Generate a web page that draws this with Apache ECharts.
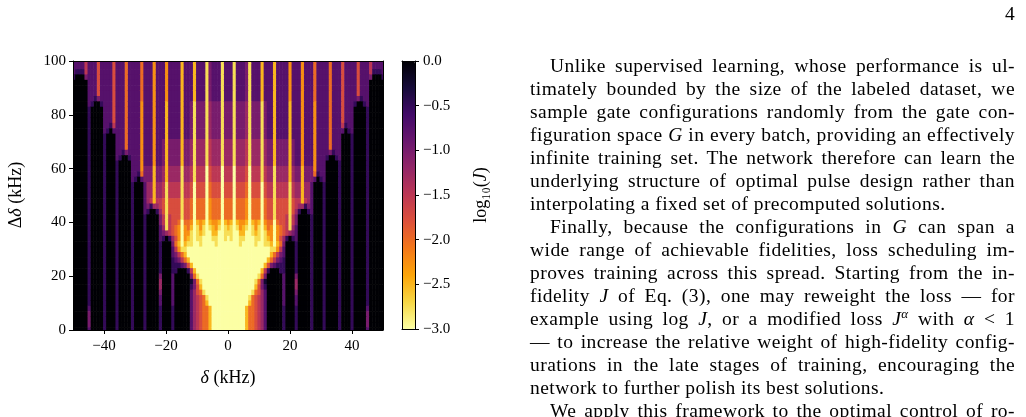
<!DOCTYPE html>
<html>
<head>
<meta charset="utf-8">
<title>Infidelity map</title>
<script src="https://cdn.jsdelivr.net/npm/echarts@6.0.0/dist/echarts.min.js"></script>
<style>
  html, body { margin: 0; padding: 0; background: #fff; }
  #page { position: relative; width: 1026px; height: 417px; overflow: hidden; }
  #chart { position: absolute; left: 0; top: 0; width: 1026px; height: 417px; }
  .txt { position: absolute; font-family: 'Liberation Serif', 'DejaVu Serif', serif; font-size: 19.5px; line-height: 23px; color: #000; }
  #para { left: 530px; top: 54px; width: 485px; letter-spacing: 0.45px; }
  #para div { box-sizing: border-box; height: 23px; white-space: nowrap; text-align: justify; text-align-last: justify; }
  #para div.ind { padding-left: 20px; }
  #para div.end { text-align-last: left; }
  #para .sup { font-size: 13px; position: relative; top: -7px; }
  #pnum { left: 1005px; top: 2px; }
</style>
</head>
<body>
<div id="page">
  <div id="chart"></div>
  <div id="pnum" class="txt">4</div>
  <div id="para" class="txt">
    <div class="ind">Unlike supervised learning, whose performance is ul-</div>
    <div>timately bounded by the size of the labeled dataset, we</div>
    <div>sample gate configurations randomly from the gate con-</div>
    <div>figuration space <i>G</i> in every batch, providing an effectively</div>
    <div>infinite training set. The network therefore can learn the</div>
    <div>underlying structure of optimal pulse design rather than</div>
    <div class="end">interpolating a fixed set of precomputed solutions.</div>
    <div class="ind">Finally, because the configurations in <i>G</i> can span a</div>
    <div>wide range of achievable fidelities, loss scheduling im-</div>
    <div>proves training across this spread. Starting from the in-</div>
    <div>fidelity <i>J</i> of Eq. (3), one may reweight the loss — for</div>
    <div>example using log <i>J</i>, or a modified loss <i>J</i><span class="sup"><i>α</i></span> with <i>α</i> &lt; 1</div>
    <div>— to increase the relative weight of high-fidelity config-</div>
    <div>urations in the late stages of training, encouraging the</div>
    <div class="end">network to further polish its best solutions.</div>
    <div class="ind">We apply this framework to the optimal control of ro-</div>
  </div>
</div>
<script>
// log10(J) on a 1 kHz (delta) x 2 kHz (Delta delta) grid.
// Only delta >= 0 is stored (columns 0..50), the map is mirrored about delta = 0.
// Each character is a level k, log10(J) = -k / 4  (0 = black, C = -3 pale yellow).
const levels = '0123456789ABC';

const dDeltaRows = [100, 98, 96, 94, 92, 90, 88, 86, 84, 82, 80, 78, 76, 74, 72, 70, 68, 66, 64, 62,
  60, 58, 56, 54, 52, 50, 48, 46, 44, 42, 40, 38, 36, 34, 32, 30, 28, 26, 24, 22,
  20, 18, 16, 14, 12, 10, 8, 6, 4, 2, 0];

const logJRows = [
  '33B3334B33 3A333A3333 9333933383 3338333733 3373336333 3', // 100
  '33B3334B33 3A333A3333 9333933383 3338333733 3373336333 3',
  '33B3334B33 3A333A3333 9333933383 3338333733 3373336222 3',
  '33B3334B33 3A333A3333 9333933383 3338333733 3373334000 2',
  '33B3334B33 3A333A3333 9333933383 3338333733 3373330000 0', // 92
  '33B3334B33 3A333A3333 9333933383 3338333733 3373330000 0',
  '33B3334B33 3A333A3333 9333933383 3338333733 3373330000 0',
  '33B3334B33 3A333A3333 9333933383 3338333733 3342330000 0',
  '44B4445B44 4B433A3333 A333933393 3338333733 3200230000 0', // 84
  '44B4445B44 4B433A3333 A333933393 3338333733 3000020000 0',
  '44B4445B44 4B433A3333 A333933393 3338333733 3000020000 0',
  '44B4445B44 4B433A3333 A333933393 3338333733 3000020000 0',
  '44B4445B44 4B433A3333 A333933393 3338333623 3000020000 0', // 76
  '44B4445B44 4B433A3333 A333933393 3338333302 3000020000 0',
  '44B4445B44 4B433A3333 A333933393 3338333000 2000020000 0',
  '55B5556B55 5B544A4444 A433933393 3338333000 2000020000 0',
  '55B5556B55 5B544A4444 A433933393 3338333000 2000020000 0', // 68
  '55B5556B55 5B544A4444 A433933393 3334233000 2000020000 0',
  '55B5556B55 5B544A4444 A433933393 3320023000 2000020000 0',
  '55B5556B55 5B544A4444 A433933393 3300002000 2000020000 0',
  '66C6667C66 6B655B5555 A544A44493 3300002000 2000020000 0', // 60
  '66C6667C66 6B655B5555 A544A44482 3300002000 2000020000 0',
  '66C6667C66 6B655B5555 A544A44430 2300002000 2000020000 0',
  '77C7778C77 7C766B6666 B655A55300 0200002000 2000020000 0',
  '77C7778C77 7C766B6666 B655A55300 0200002000 2000020000 0', // 52
  '77C7778C77 7C766B6666 B655A55300 0200002000 2000020000 0',
  '88C8889C88 8C877B7777 B766A65300 0200002000 2000020000 0',
  '88C8889C88 8C877B7777 B765524300 0200002000 2000020000 0',
  '88C8889C88 8C877B7777 B752002300 0200002000 2000020000 0', // 44
  '88C8889C88 8C877B7776 B640000200 0200002000 2000020000 0',
  '9ACA99ACA9 AC988C8776 B640000200 0200002000 2000020000 0',
  'ABCB9ABCB9 BCA89C9876 B530000200 0200002000 2000020000 0',
  'BBCCAACCBA BCB99C9876 5430000200 0200002000 2000020000 0', // 36
  'CBCCBBCCCB BCBA9C9752 0230000200 0200002000 2000020000 0',
  'CCCCBCCCCB CCBBACA840 0020000200 0200002000 2000020000 0',
  'CCCCCCCCCC CCCCBB9630 0020000200 0200002000 2000020000 0',
  'CCCCCCCCCC CCCCA86430 0020000200 0200002000 2000020000 0', // 28
  'CCCCCCCCCC CCCA864320 0020000200 0200002000 2000020000 0',
  'CCCCCCCCCC CCA7432220 0020000200 0200002000 2000020000 0',
  'CCCCCCCCCC CA62000220 0020000200 0200002000 2000020000 0',
  'CCCCCCCCCC B840000030 0040000200 0200002000 2000020000 0', // 20
  'CCCCCCCCCB 8410000030 0050000200 0200002000 2000020000 0',
  'CCCCCCCCCA 7420000030 0050000200 0200002000 2000020000 0',
  'CCCCCCCCB8 7530000030 0040000200 0200002000 2000020000 0',
  'CCCCCCCB87 6530000030 0030000200 0200002000 2000020000 0', // 12
  'CCCCCCCA87 6530000030 0030000200 0200002000 2000020000 0',
  'CCCCCCA887 6530000020 0020000200 0200002000 2000030000 0',
  'CCCCCCA887 6530000020 0020000200 0200002000 2000040000 0',
  'CCCCCCA887 6530000020 0020000200 0200002000 2000040000 0', // 4
  'CCCCCCA887 6530000020 0020000200 0200002000 2000040000 0',
  'CCCCCCA887 6530000020 0020000200 0200002000 2000030000 0'  // 0
];

const xTicks = [-40, -20, 0, 20, 40];
const cbTicks = [0, -0.5, -1, -1.5, -2, -2.5, -3];

// inferno, from -3 (pale yellow) up to 0 (black)
const infernoReversed = ['#fcffa4', '#f6d746', '#fca50a', '#f37819', '#dd513a', '#bc3754',
  '#932667', '#6a176e', '#420a68', '#160b39', '#000004'];

const cells = [];
logJRows.forEach((row, r) => {
  const s = row.replace(/ /g, '');
  for (let c = 0; c < s.length; c++) {
    const v = -levels.indexOf(s[c]) / 4;
    cells.push([c, dDeltaRows[r], v]);
    if (c > 0) cells.push([-c, dDeltaRows[r], v]);
  }
});

const serif = "'Liberation Serif', 'DejaVu Serif', serif";
const black = '#000';
const minus = v => (v < 0 ? '\u2212' : '') + Math.abs(v);

const lineOnly = (extra) => Object.assign({
  type: 'value', z: 10,
  axisLine: { show: true, onZero: false, lineStyle: { color: black, width: 1 } },
  axisTick: { show: false }, axisLabel: { show: false }, splitLine: { show: false }
}, extra);

const chart = echarts.init(document.getElementById('chart'));

chart.setOption({
  animation: false,
  grid: [
    { left: 73, top: 61, width: 310, height: 269 },
    { left: 402, top: 61, width: 13, height: 268 }
  ],
  xAxis: [
    {
      gridIndex: 0, type: 'value', min: -50, max: 50, z: 10,
      axisLine: { show: true, onZero: false, lineStyle: { color: black, width: 1 } },
      axisTick: { show: true, length: 4, customValues: xTicks, lineStyle: { color: black } },
      axisLabel: { customValues: xTicks, formatter: minus, color: black, fontFamily: serif, fontSize: 15, margin: 9 },
      splitLine: { show: false }
    },
    lineOnly({ gridIndex: 0, position: 'top', min: -50, max: 50 }),
    lineOnly({ gridIndex: 1, position: 'bottom', min: 0, max: 1 }),
    lineOnly({ gridIndex: 1, position: 'top', min: 0, max: 1 })
  ],
  yAxis: [
    {
      gridIndex: 0, type: 'value', min: 0, max: 100, interval: 20, z: 10,
      axisLine: { show: true, onZero: false, lineStyle: { color: black, width: 1 } },
      axisTick: { show: true, length: 4, lineStyle: { color: black } },
      axisLabel: { color: black, fontFamily: serif, fontSize: 15, margin: 7 },
      splitLine: { show: false }
    },
    lineOnly({ gridIndex: 0, position: 'right', min: 0, max: 100 }),
    lineOnly({ gridIndex: 1, position: 'left', min: -3, max: 0 }),
    {
      gridIndex: 1, type: 'value', position: 'right', min: -3, max: 0, interval: 0.5, z: 10,
      axisLine: { show: true, onZero: false, lineStyle: { color: black, width: 1 } },
      axisTick: { show: true, length: 4, customValues: cbTicks, lineStyle: { color: black } },
      axisLabel: {
        customValues: cbTicks, color: black, fontFamily: serif, fontSize: 15, margin: 8,
        formatter: v => (v < 0 ? '\u2212' : '') + Math.abs(v).toFixed(1)
      },
      splitLine: { show: false }
    }
  ],
  visualMap: {
    type: 'continuous', seriesIndex: 0, dimension: 2, min: -3, max: 0,
    inRange: { color: infernoReversed },
    calculable: false, hoverLink: false, text: null, padding: 0,
    left: 402, top: 61, itemWidth: 13, itemHeight: 268, z: 2
  },
  graphic: [
    {
      type: 'text', x: 228, y: 378, silent: true,
      style: {
        text: '{i|δ}{r| (kHz)}', align: 'center', verticalAlign: 'middle',
        rich: {
          r: { fontFamily: serif, fontSize: 18, fill: black },
          i: { fontFamily: serif, fontSize: 18, fontStyle: 'italic', fill: black }
        }
      }
    },
    {
      type: 'text', x: 16, y: 195, rotation: Math.PI / 2, silent: true,
      style: {
        text: '{r|Δ}{i|δ}{r| (kHz)}', align: 'center', verticalAlign: 'middle',
        rich: {
          r: { fontFamily: serif, fontSize: 18, fill: black },
          i: { fontFamily: serif, fontSize: 18, fontStyle: 'italic', fill: black }
        }
      }
    },
    {
      type: 'text', x: 481, y: 195, rotation: Math.PI / 2, silent: true,
      style: {
        text: '{r|log₁₀(}{i|J}{r|)}', align: 'center', verticalAlign: 'middle',
        rich: {
          r: { fontFamily: serif, fontSize: 18, fill: black },
          i: { fontFamily: serif, fontSize: 18, fontStyle: 'italic', fill: black }
        }
      }
    }
  ],
  series: [{
    type: 'custom',
    xAxisIndex: 0, yAxisIndex: 0,
    data: cells,
    progressive: 0,
    silent: true,
    renderItem: (params, api) => {
      const x = api.value(0), y = api.value(1);
      const p0 = api.coord([x - 0.5, y + 1]);
      const p1 = api.coord([x + 0.5, y - 1]);
      const cs = params.coordSys;
      const shape = echarts.graphic.clipRectByRect(
        { x: p0[0], y: p0[1], width: p1[0] - p0[0] + 0.6, height: p1[1] - p0[1] + 0.6 },
        { x: cs.x, y: cs.y, width: cs.width, height: cs.height }
      );
      return shape && { type: 'rect', shape: shape, style: { fill: api.visual('color') } };
    }
  }]
});
</script>
</body>
</html>
